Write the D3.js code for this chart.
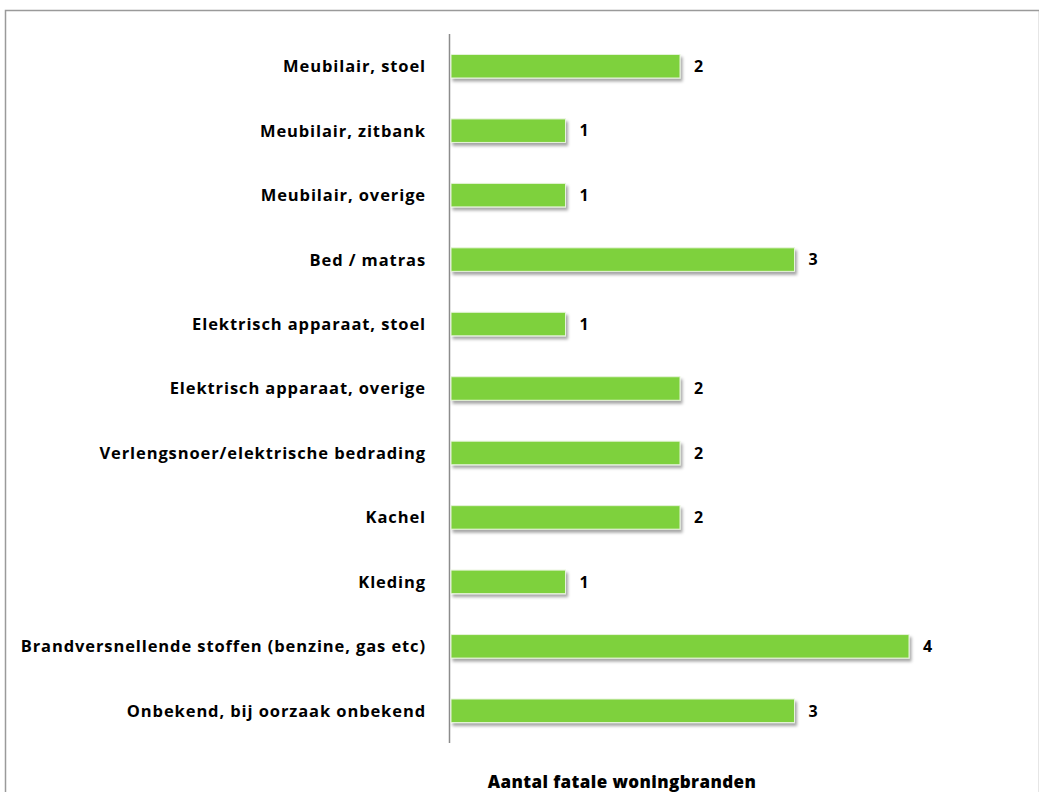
<!DOCTYPE html>
<html><head><meta charset="utf-8">
<script src="https://cdn.jsdelivr.net/npm/d3@7"></script>
<style>body{margin:0;background:#fff}svg{display:block}</style>
</head><body>
<script>
const categories = [
  "Meubilair, stoel",
  "Meubilair, zitbank",
  "Meubilair, overige",
  "Bed / matras",
  "Elektrisch apparaat, stoel",
  "Elektrisch apparaat, overige",
  "Verlengsnoer/elektrische bedrading",
  "Kachel",
  "Kleding",
  "Brandversnellende stoffen (benzine, gas etc)",
  "Onbekend, bij oorzaak onbekend"
];
const values = [2, 1, 1, 3, 1, 2, 2, 2, 1, 4, 3];
const axisTitle = "Aantal fatale woningbranden";

const W = 1039, H = 792;
const svg = d3.select("body").append("svg").attr("width", W).attr("height", H);

const defs = svg.append("defs");
const f = defs.append("filter").attr("id","sh").attr("x","-10%").attr("y","-30%").attr("width","120%").attr("height","180%");
f.append("feDropShadow").attr("dx",2).attr("dy",3).attr("stdDeviation",1.8).attr("flood-color","#000").attr("flood-opacity",0.35);

// outer border
svg.append("rect").attr("x",5.5).attr("y",10.5).attr("width",W-5).attr("height",H).attr("fill","none").attr("stroke","#9a9a9a").attr("stroke-width",1.5);

const x0 = 451;
const x = d3.scaleLinear().domain([0,4]).range([x0, x0+458]);
const y = d3.scaleBand().domain(categories).range([34, 743]).paddingInner(0.635).paddingOuter(0.3175);

const font = "'Open Sans', Lato, sans-serif";

svg.append("line").attr("x1",x0-1.5).attr("x2",x0-1.5).attr("y1",34).attr("y2",743).attr("stroke","#8c8c8c").attr("stroke-width",1.5);

svg.append("g").selectAll("rect").data(values).join("rect")
  .attr("x", x(0)).attr("y",(d,i)=>y(categories[i]))
  .attr("width",d=>x(d)-x(0)).attr("height",y.bandwidth())
  .attr("fill","#7ed13c").attr("stroke","#e6f4da").attr("stroke-width",1)
  .attr("filter","url(#sh)");

svg.append("g").selectAll("text").data(values).join("text")
  .attr("x",d=>x(d)+14).attr("y",(d,i)=>y(categories[i])+y.bandwidth()/2)
  .attr("dy","0.36em").attr("font-family",font).attr("font-weight","bold").attr("font-size",16).attr("fill","#000")
  .text(d=>d);

svg.append("g").selectAll("text").data(categories).join("text")
  .attr("x",426).attr("y",d=>y(d)+y.bandwidth()/2)
  .attr("dy","0.36em").attr("text-anchor","end").attr("font-family",font).attr("font-weight","bold").attr("font-size",16.5)
  .attr("letter-spacing",0.9).attr("fill","#000")
  .text(d=>d);

svg.append("text").attr("x",622).attr("y",788).attr("text-anchor","middle")
  .attr("font-family",font).attr("font-weight","800").attr("font-size",17).attr("letter-spacing",0.4).attr("fill","#000").text(axisTitle);
</script>
</body></html>
